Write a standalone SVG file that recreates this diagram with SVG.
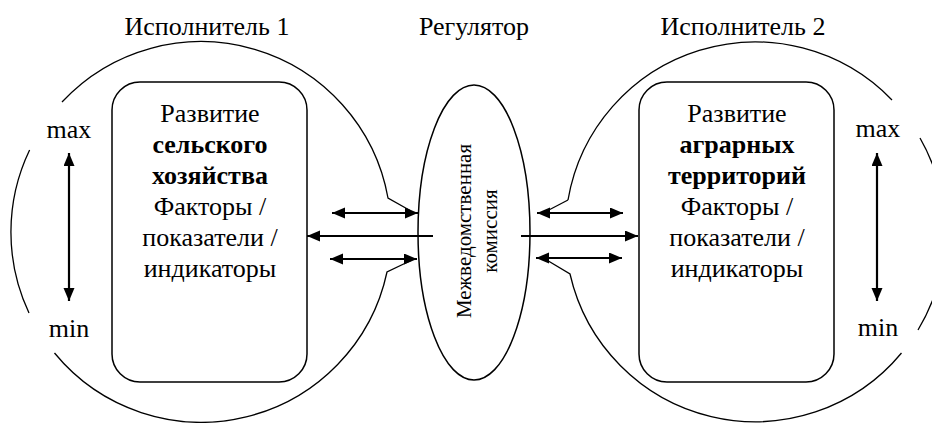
<svg xmlns="http://www.w3.org/2000/svg" width="932" height="423" viewBox="0 0 932 423" font-family="'Liberation Serif', 'DejaVu Serif', serif">
<style>
text{font-family:"Liberation Serif","DejaVu Serif",serif;font-size:26px;fill:#000;text-anchor:middle}
.b{font-weight:bold}
.sm{font-size:21px}
.thin{fill:none;stroke:#000;stroke-width:1.3}
.box{fill:none;stroke:#000;stroke-width:1.5}
.arr{fill:none;stroke:#000;stroke-width:2.2}
</style>
<defs>
<marker id="ah" markerUnits="userSpaceOnUse" markerWidth="14" markerHeight="12" refX="13" refY="5.5" orient="auto-start-reverse">
<path d="M0,0 L13,5.5 L0,11 z" fill="#000"/>
</marker>
</defs>
<rect width="932" height="423" fill="#fff"/>
<g id="executor1">
<text x="207" y="35">Исполнитель 1</text>
<path class="thin" d="M62,102 A190,190 0 0 1 388,198 L411,211"/>
<path class="thin" d="M29.6,150 A190,190 0 0 0 29,313"/>
<path class="thin" d="M54.5,353 A190,190 0 0 0 387,272 L412,260"/>
<text x="69" y="138">max</text>
<text x="69" y="337">min</text>
<line class="arr" x1="69" y1="153" x2="69" y2="301" marker-start="url(#ah)" marker-end="url(#ah)"/>
</g>
<g id="box1">
<rect class="box" x="112" y="82" width="195" height="300" rx="28"/>
<text x="210" y="122">Развитие</text>
<text class="b" x="210" y="153">сельского</text>
<text class="b" x="210" y="184">хозяйства</text>
<text x="210" y="215">Факторы /</text>
<text x="210" y="246">показатели /</text>
<text x="210" y="277">индикаторы</text>
</g>
<g id="regulator">
<text x="474" y="35">Регулятор</text>
<ellipse class="box" cx="474" cy="232.5" rx="56" ry="147.5"/>
<g transform="translate(471,231) rotate(-90)">
<text class="sm" x="0" y="0">Межведомственная</text>
<text class="sm" x="0" y="26">комиссия</text>
</g>
</g>
<g id="executor2">
<text x="743" y="35">Исполнитель 2</text>
<path class="thin" d="M568,200 A190,190 0 0 1 892,100"/>
<path class="thin" d="M920,138 A190,190 0 0 1 918,330"/>
<path class="thin" d="M901.5,353 A190,190 0 0 1 570,274 L545,259"/>
<path class="thin" d="M568,200 L545,212"/>
<text x="878" y="137">max</text>
<text x="878" y="336">min</text>
<line class="arr" x1="877" y1="153" x2="877" y2="301" marker-start="url(#ah)" marker-end="url(#ah)"/>
</g>
<g id="box2">
<rect class="box" x="639" y="82" width="195" height="300" rx="28"/>
<text x="737" y="122">Развитие</text>
<text class="b" x="737" y="153">аграрных</text>
<text class="b" x="737" y="184">территорий</text>
<text x="737" y="215">Факторы /</text>
<text x="737" y="246">показатели /</text>
<text x="737" y="277">индикаторы</text>
</g>
<g id="connectors">
<line class="arr" x1="332" y1="213" x2="418" y2="213" marker-start="url(#ah)" marker-end="url(#ah)"/>
<line class="arr" x1="433" y1="236" x2="307" y2="236" marker-end="url(#ah)"/>
<line class="arr" x1="330" y1="259" x2="417" y2="259" marker-start="url(#ah)" marker-end="url(#ah)"/>
<line class="arr" x1="537" y1="213" x2="623" y2="213" marker-start="url(#ah)" marker-end="url(#ah)"/>
<line class="arr" x1="521" y1="236" x2="638" y2="236" marker-end="url(#ah)"/>
<line class="arr" x1="536" y1="258" x2="622" y2="258" marker-start="url(#ah)" marker-end="url(#ah)"/>
</g>
</svg>
